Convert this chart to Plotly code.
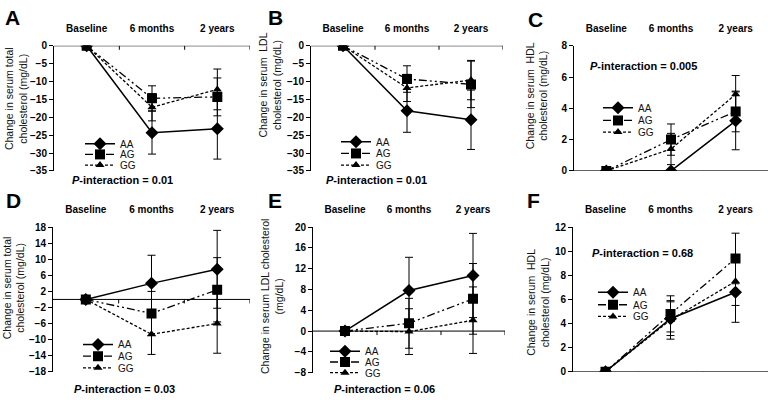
import plotly.graph_objects as go

# ---------------- data ----------------
categories = ["Baseline", "6 months", "2 years"]
genotypes = ["AA", "AG", "GG"]

# Panel A: change in total cholesterol
A_AA = [0, -24.3, -23.2]
A_AA_err = [None, 6.0, 8.5]
A_AG = [0, -14.7, -14.3]
A_AG_err = [None, 3.5, 5.3]
A_GG = [0, -17.2, -12.2]
A_GG_err = [None, 3.8, 5.7]

# Panel B: change in LDL cholesterol
B_AA = [0, -18.2, -20.7]
B_AA_err = [None, 6.0, 8.3]
B_AG = [0, -9.3, -10.8]
B_AG_err = [None, 3.7, 6.5]
B_GG = [0, -11.8, -9.6]
B_GG_err = [None, 3.8, 5.5]

# Panel C: change in HDL cholesterol
C_AA = [0, 0.0, 3.2]
C_AA_err = [None, None, 1.85]
C_AG = [0, 2.0, 3.8]
C_AG_err = [None, 1.0, 1.3]
C_GG = [0, 1.4, 4.9]
C_GG_err = [None, 1.0, 1.2]

# Panel D: change in total cholesterol
D_AA = [0, 4.0, 7.5]
D_AA_err = [None, 7.0, 9.7]
D_AG = [0, -3.5, 2.4]
D_AG_err = [None, 5.5, 8.0]
D_GG = [0, -8.7, -6.0]
D_GG_err = [None, 5.0, 7.4]

# Panel E: change in LDL cholesterol
E_AA = [0, 7.8, 10.7]
E_AA_err = [None, 6.4, 8.1]
E_AG = [0, 1.5, 6.2]
E_AG_err = [None, 4.8, 6.8]
E_GG = [0, -0.1, 2.1]
E_GG_err = [None, 4.4, 6.4]

# Panel F: change in HDL cholesterol
F_AA = [0, 4.4, 6.6]
F_AA_err = [None, 1.4, 2.5]
F_AG = [0, 4.8, 9.4]
F_AG_err = [None, 1.5, 2.1]
F_GG = [0, 4.3, 7.5]
F_GG_err = [None, 1.6, 2.0]

panel_letters = ["A", "B", "C", "D", "E", "F"]
p_texts = ["0.01", "0.01", "0.005", "0.03", "0.06", "0.68"]
y_titles = [
    "Change in serum total<br>cholesterol (mg/dL)",
    "Change in serum  LDL<br>cholesterol (mg/dL)",
    "Change in serum  HDL<br>cholesterol (mg/dL)",
    "Change in serum total<br>cholesterol (mg/dL)",
    "Change in serum LDL cholesterol<br>(mg/dL)",
    "Change in serum  HDL<br>cholesterol (mg/dL)",
]
y_ranges = [(-35, 0), (-35, 0), (0, 8), (-18, 18), (-8, 20), (0, 12)]
y_dticks = [5, 5, 2, 4, 4, 2]

series = [
    [(A_AA, A_AA_err), (A_AG, A_AG_err), (A_GG, A_GG_err)],
    [(B_AA, B_AA_err), (B_AG, B_AG_err), (B_GG, B_GG_err)],
    [(C_AA, C_AA_err), (C_AG, C_AG_err), (C_GG, C_GG_err)],
    [(D_AA, D_AA_err), (D_AG, D_AG_err), (D_GG, D_GG_err)],
    [(E_AA, E_AA_err), (E_AG, E_AG_err), (E_GG, E_GG_err)],
    [(F_AA, F_AA_err), (F_AG, F_AG_err), (F_GG, F_GG_err)],
]

# ---------------- layout geometry (pixels) ----------------
W, H = 771, 400
# (left, right, top, bottom) of each plot area in px
boxes = [
    (54, 250, 41, 170),
    (311, 503, 41, 170),
    (574, 768, 41, 170),
    (53, 250, 228, 377),
    (313, 505, 228, 378),
    (573, 768, 228, 377),
]
letter_pos = [(3, 12), (266, 12), (526, 14), (4, 201), (266, 201), (525, 201)]
p_pos = [(123, 179), (376, 179), (643, 62), (124, 395), (384, 395), (642, 255)]
ytitle_pos = [(16, 96), (270, 82), (537, 93), (14, 291), (272, 300), (538, 306)]
# legend: x of label text start, y centres of AA/AG/GG entries
legend_text_x = [120, 376, 638, 118, 365, 633]
legend_rows = [(142, 153, 164), (140, 152, 164), (105, 118, 130),
               (349, 361, 373), (356, 367, 378), (295, 308, 320)]

styles = {
    "AA": dict(dash="solid", width=1.5, symbol="diamond", size=10),
    "AG": dict(dash="8px,3px,2px,3px,2px,3px", width=1.3, symbol="square", size=10),
    "GG": dict(dash="3px,2px", width=1.3, symbol="triangle-up", size=8),
}

FONT = "Liberation Sans, Arial, sans-serif"

fig = go.Figure()
layout = dict(
    width=W, height=H,
    margin=dict(l=0, r=0, t=0, b=0),
    paper_bgcolor="white", plot_bgcolor="white",
    font=dict(family=FONT, color="black"),
    showlegend=True,
)
shapes = []
annotations = []
leg_count = 0

for i in range(6):
    n = "" if i == 0 else str(i + 1)
    xa, ya = "x" + n, "y" + n
    xkey, ykey = "xaxis" + n, "yaxis" + n
    l, r, t, b = boxes[i]
    layout[xkey] = dict(
        domain=[l / W, r / W], anchor=ya, side="top",
        type="category", categoryorder="array", categoryarray=categories,
        range=[-0.5, 2.5], showline=False, showgrid=False, zeroline=False,
        ticks="outside", ticklen=9, tickcolor="rgba(0,0,0,0)",
        tickfont=dict(family=FONT, size=10, weight="bold"),
        fixedrange=True,
    )
    y0, y1 = y_ranges[i]
    layout[ykey] = dict(
        domain=[1 - b / H, 1 - t / H], anchor=xa,
        range=[y0, y1], tick0=y0, dtick=y_dticks[i],
        showline=True, linecolor="black", linewidth=1,
        ticks="outside", ticklen=4, tickcolor="black",
        showgrid=False, zeroline=False,
        tickfont=dict(family=FONT, size=10, weight="bold"),
        fixedrange=True,
    )
    # horizontal axis line at y = 0 with boundary ticks
    shapes.append(dict(type="line", xref=xa, yref=ya, x0=-0.5, x1=2.5, y0=0, y1=0,
                       line=dict(color="black", width=1)))
    for xb in (0.5, 1.5, 2.5):
        shapes.append(dict(type="line", xref=xa, yref=ya, ysizemode="pixel", yanchor=0,
                           x0=xb, x1=xb, y0=0, y1=-4, line=dict(color="black", width=1)))

    for k, (g, (vals, errs)) in enumerate(zip(genotypes, series[i])):
        st = styles[g]
        leg_count += 1
        lg = "legend" if leg_count == 1 else "legend" + str(leg_count)
        fig.add_trace(go.Scatter(
            x=categories, y=vals, name=g, xaxis=xa, yaxis=ya, legend=lg,
            mode="lines+markers",
            line=dict(color="black", width=st["width"], dash=st["dash"]),
            marker=dict(symbol=st["symbol"], size=st["size"], color="black"),
            error_y=dict(type="data", array=errs, symmetric=True, color="black",
                         thickness=1, width=4),
            showlegend=True,
        ))
        layout[lg] = dict(
            x=(legend_text_x[i] - 40) / W, y=1 - legend_rows[i][k] / H,
            xanchor="left", yanchor="middle",
            bgcolor="rgba(0,0,0,0)", borderwidth=0,
            font=dict(family=FONT, size=10, color="#111"),
            itemwidth=30,
        )

    ax, ay = letter_pos[i]
    annotations.append(dict(text="<b>" + panel_letters[i] + "</b>", xref="paper", yref="paper",
                            x=ax / W, y=1 - ay / H, xanchor="left", yanchor="middle",
                            showarrow=False, font=dict(family=FONT, size=21, color="black")))
    px, py = p_pos[i]
    annotations.append(dict(text="<b><i>P</i>-interaction = " + p_texts[i] + "</b>",
                            xref="paper", yref="paper", x=px / W, y=1 - py / H,
                            xanchor="center", yanchor="middle", showarrow=False,
                            font=dict(family=FONT, size=11, color="black")))
    tx, ty = ytitle_pos[i]
    annotations.append(dict(text=y_titles[i], xref="paper", yref="paper",
                            x=tx / W, y=1 - ty / H, xanchor="center", yanchor="middle",
                            textangle=-90, showarrow=False,
                            font=dict(family=FONT, size=10.5, color="#111")))

layout["shapes"] = shapes
layout["annotations"] = annotations
fig.update_layout(**layout)
fig.write_html("out.html", config={"displayModeBar": False},
               post_script="document.body.style.margin='0px';")
